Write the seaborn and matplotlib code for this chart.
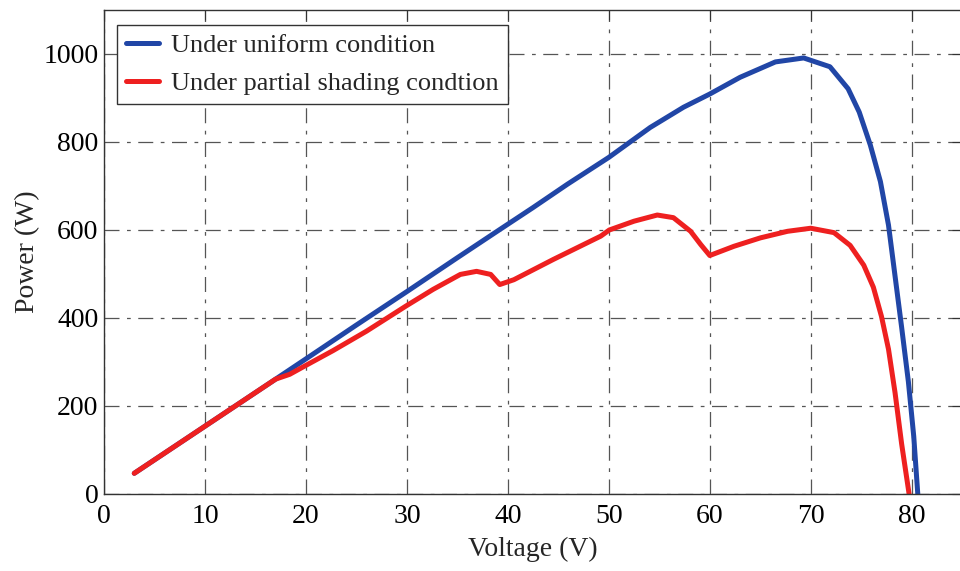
import pandas as pd
import numpy as np
from matplotlib import pyplot as plt
import seaborn as sns

# P-V curves
v_uniform = [3.0, 10.0, 17.0, 20.0, 25.0, 30.0, 35.0, 39.2, 42.5, 45.9, 50.0, 54.1,
             57.4, 60.0, 63.0, 66.5, 69.3, 71.9, 73.7, 74.8, 75.9, 76.9, 77.7,
             78.35, 79.0, 79.67, 80.2, 80.6]
p_uniform = [47, 154, 261, 307, 384, 460, 537, 601, 651, 704, 765, 833,
             879, 909, 947, 982, 991, 971, 921, 868, 793, 710, 611,
             495, 379, 255, 131, 0]

v_shaded = [3.0, 10.0, 17.0, 18.4, 19.9, 22.7, 26.0, 29.9, 32.6, 35.3, 36.9, 38.3,
            39.2, 40.6, 44.5, 49.2, 50.05, 52.5, 54.8, 56.4, 58.1, 59.1, 60.0,
            62.4, 65.0, 67.7, 70.0, 72.3, 73.9, 75.25, 76.2, 77.0, 77.7, 78.35,
            79.0, 79.74]
p_shaded = [47, 154, 261, 272, 291, 326, 370, 427, 465, 499, 506, 499,
            476, 487, 533, 586, 600, 620, 634, 628, 597, 567, 542,
            563, 582, 597, 604, 594, 565, 520, 470, 404, 329, 230,
            114, 0]

labels = ['Under uniform condition', 'Under partial shading condtion']
colors = ['#2146a6', '#ee2020']

x_ticks = list(range(0, 90, 10))
y_ticks = list(range(0, 1200, 200))

sns.set_theme(style="white")
plt.rcParams['font.family'] = ['Liberation Serif', 'DejaVu Serif']

df_u = pd.DataFrame({'Voltage': v_uniform, 'Power': p_uniform})
df_s = pd.DataFrame({'Voltage': v_shaded, 'Power': p_shaded})

fig = plt.figure(figsize=(9.6, 5.71), dpi=100)
ax = fig.add_axes([0.1083, 0.1349, 0.894, 0.8476])

sns.lineplot(data=df_u, x='Voltage', y='Power', ax=ax, sort=False,
             color=colors[0], linewidth=3.6, label=labels[0])
sns.lineplot(data=df_s, x='Voltage', y='Power', ax=ax, sort=False,
             color=colors[1], linewidth=3.6, label=labels[1])

ax.set_xlim(0, 85)
ax.set_ylim(0, 1100)
ax.set_xticks(x_ticks)
ax.set_yticks(y_ticks)
ax.grid(True, color='#555555', linewidth=0.9, linestyle=(0, (12, 6, 3, 6)))
ax.set_axisbelow(True)
for s in ax.spines.values():
    s.set_color('#333333')
    s.set_linewidth(1.0)

ax.tick_params(axis='both', direction='in', length=7, width=0.8, colors='#333333',
               top=True, right=True, labelsize=20, labelcolor='black')
ax.tick_params(axis='x', pad=7)
ax.tick_params(axis='y', pad=4)
ax.set_xlabel('Voltage (V)', fontsize=20, labelpad=6)
ax.set_ylabel('Power (W)', fontsize=20, labelpad=2)

leg = ax.legend(loc='upper left', bbox_to_anchor=(0.015, 0.97), fontsize=19,
                frameon=True, fancybox=False, framealpha=1, edgecolor='#333333',
                handlelength=1.25, handletextpad=0.45, borderpad=0.35,
                labelspacing=0.55, borderaxespad=0)
leg.get_frame().set_linewidth(1.0)

plt.savefig('out.png', dpi=100)
